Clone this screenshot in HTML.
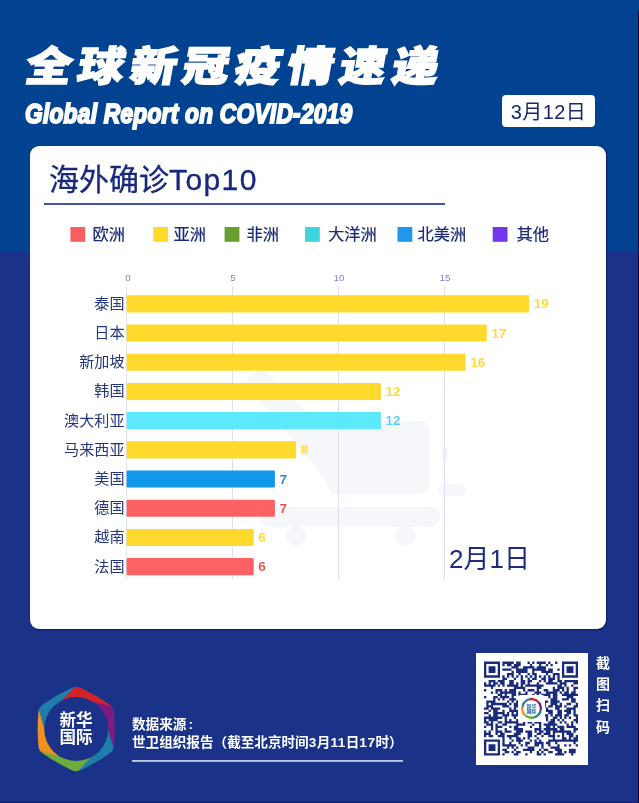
<!DOCTYPE html>
<html lang="zh-CN">
<head>
<meta charset="utf-8">
<title>全球新冠疫情速递</title>
<style>
html,body{margin:0;padding:0;}
body{width:639px;height:803px;overflow:hidden;position:relative;background:#1a3388;
  font-family:"Liberation Sans","Noto Sans CJK SC",sans-serif;}
.abs{position:absolute;}
#bgtop{left:0;top:0;width:639px;height:252px;background:#014391;}
#bgbot{left:0;top:801px;width:639px;height:2px;background:#15277a;}
#rcol{left:638px;top:11px;width:1px;height:792px;background:#03033f;}
#title{left:26px;top:36.6px;white-space:nowrap;color:#fff;font-weight:900;font-size:46.5px;line-height:60px;
  letter-spacing:5.85px;transform-origin:0 50%;transform:scale(1,0.885) skewX(-9deg);-webkit-text-stroke:1.6px #fff;}
#sub{left:25px;top:99.1px;white-space:nowrap;color:#fff;font-weight:700;font-style:italic;font-size:28px;line-height:30px;
  transform-origin:0 50%;transform:scaleX(0.812);-webkit-text-stroke:2px #fff;letter-spacing:0.3px;}
#date{left:502px;top:95px;width:93px;height:32px;border-radius:4px;background:#fff;color:#182a6e;
  font-size:20px;line-height:34px;text-align:center;letter-spacing:0.4px;}
#card{left:29.5px;top:146px;width:576.2px;height:482.7px;border-radius:9px;background:#fff;box-shadow:0.4px 0.4px 1.2px #101a63;}
#ctitle{left:49px;top:160px;font-size:30px;line-height:40px;font-weight:400;-webkit-text-stroke:0.3px #18297c;color:#18297c;white-space:nowrap;}
#cline{left:44px;top:203px;width:401px;height:2px;background:#4358a2;}
.lg{top:227.5px;width:14px;height:14px;}
.lt{top:222px;margin-left:-0.5px;font-size:16.3px;line-height:24px;color:#1a2a78;-webkit-text-stroke:0.2px #1a2a78;white-space:nowrap;}
.tick{top:272.2px;width:40px;margin-left:-19.6px;text-align:center;font-size:9.8px;line-height:12px;color:#7886c4;}
.grid{top:285.5px;width:1px;height:294px;background:#dcdff0;}
.bar{left:126.6px;height:17px;border-radius:1px;}
.cn{left:29.5px;width:95px;text-align:right;font-size:15.1px;line-height:20px;color:#26367f;white-space:nowrap;}
.val{font-size:13.6px;line-height:17px;font-weight:700;white-space:nowrap;-webkit-text-stroke:0.1px #fff;}
#frame{left:449px;top:540.8px;font-size:26px;line-height:36px;color:#1b2d7d;white-space:nowrap;}
.src{left:132px;color:#fff;font-weight:700;font-size:13.6px;line-height:18px;white-space:nowrap;}
#sline{left:132px;top:760px;width:271px;height:2px;background:#e4e8f7;}
#qrbox{left:476px;top:653px;width:112px;height:112px;background:#fff;}
.scan{left:593px;width:20px;text-align:center;color:#fff;font-weight:700;font-size:14px;line-height:20px;}
.lgt{left:46px;width:60px;text-align:center;color:#fff;font-weight:700;font-size:16.5px;line-height:18px;white-space:nowrap;}
</style>
</head>
<body>
<div class="abs" id="bgtop"></div>
<div class="abs" id="bgbot"></div>
<div class="abs" id="rcol"></div>

<div class="abs" id="title">全球新冠疫情速递</div>
<div class="abs" id="sub">Global Report on COVID-2019</div>
<div class="abs" id="date">3月12日</div>

<div class="abs" id="card"></div>
<div class="abs" id="ctitle">海外确诊<span style="letter-spacing:1.4px;font-weight:400;-webkit-text-stroke:0.35px #18297c">Top10</span></div>
<div class="abs" id="cline"></div>

<!--wm--><svg class="abs" style="left:0;top:0" width="639" height="803" viewBox="0 0 639 803"><g fill="#f5f7fb">
<rect x="327.500" y="421" width="102" height="73" rx="9"/>
<rect x="260" y="507" width="180" height="20" rx="10"/>
<circle cx="296" cy="536" r="10"/><circle cx="405" cy="536" r="10"/>
<rect x="441.500" y="447" width="6" height="14" rx="3"/>
<rect x="438" y="484" width="28" height="12" rx="6"/>
<path d="M245 381 L262 368 L332 436 L330 486 Z"/>
</g></svg><!--/wm-->
<!-- legend -->
<svg class="abs" style="left:0;top:0" width="639" height="803" viewBox="0 0 639 803"><rect x="70.4" y="227" width="14.8" height="14.8" fill="#f5605f"/><rect x="153.3" y="227" width="14.8" height="14.8" fill="#ffd92b"/><rect x="224.6" y="227" width="14.8" height="14.8" fill="#6a9e2f"/><rect x="305.0" y="227" width="14.8" height="14.8" fill="#3dd5dd"/><rect x="397.5" y="227" width="14.8" height="14.8" fill="#1f97ea"/><rect x="492.7" y="227" width="14.8" height="14.8" fill="#7437ea"/></svg>
<div class="abs lt" style="left:93px">欧洲</div>
<div class="abs lt" style="left:174px">亚洲</div>
<div class="abs lt" style="left:247px">非洲</div>
<div class="abs lt" style="left:328.5px">大洋洲</div>
<div class="abs lt" style="left:418px">北美洲</div>
<div class="abs lt" style="left:517px">其他</div>

<!-- axis -->
<div class="abs tick" style="left:127.5px">0</div>
<div class="abs tick" style="left:232.5px">5</div>
<div class="abs tick" style="left:338.5px">10</div>
<div class="abs tick" style="left:444.5px">15</div>

<!-- bars -->
<div id="bars">
<svg class="abs" style="left:0;top:0" width="639" height="803" viewBox="0 0 639 803"><rect x="126.1" y="286.2" width="1" height="293.4" fill="#dde0f0"/><rect x="232.0" y="286.2" width="1" height="293.4" fill="#dde0f0"/><rect x="338.0" y="286.2" width="1" height="293.4" fill="#dde0f0"/><rect x="444.0" y="286.2" width="1" height="293.4" fill="#dde0f0"/><rect x="126.6" y="295.3" width="402.6" height="17.1" rx="1" fill="#ffd92b"/><rect x="126.6" y="324.5" width="360.2" height="17.1" rx="1" fill="#ffd92b"/><rect x="126.6" y="353.7" width="339.0" height="17.1" rx="1" fill="#ffd92b"/><rect x="126.6" y="382.9" width="254.3" height="17.1" rx="1" fill="#ffd92b"/><rect x="126.6" y="412.1" width="254.3" height="17.1" rx="1" fill="#5ce9fb"/><rect x="126.6" y="441.3" width="169.5" height="17.1" rx="1" fill="#ffd92b"/><rect x="126.6" y="470.5" width="148.3" height="17.1" rx="1" fill="#1198ea"/><rect x="126.6" y="499.7" width="148.3" height="17.1" rx="1" fill="#fc6263"/><rect x="126.6" y="528.9" width="127.1" height="17.1" rx="1" fill="#ffd92b"/><rect x="126.6" y="558.1" width="127.1" height="17.1" rx="1" fill="#fc6263"/></svg>
<div class="abs cn" style="top:293.7px">泰国</div><div class="abs val" style="top:295.3px;left:533.8px;color:#ffd92b">19</div>
<div class="abs cn" style="top:322.9px">日本</div><div class="abs val" style="top:324.5px;left:491.4px;color:#ffd92b">17</div>
<div class="abs cn" style="top:352.1px">新加坡</div><div class="abs val" style="top:353.7px;left:470.2px;color:#ffd92b">16</div>
<div class="abs cn" style="top:381.3px">韩国</div><div class="abs val" style="top:382.9px;left:385.5px;color:#ffd92b">12</div>
<div class="abs cn" style="top:410.5px">澳大利亚</div><div class="abs val" style="top:412.1px;left:385.5px;color:#5ccdf5">12</div>
<div class="abs cn" style="top:439.7px">马来西亚</div><div class="abs val" style="top:441.3px;left:300.7px;color:#ffd92b">8</div>
<div class="abs cn" style="top:468.9px">美国</div><div class="abs val" style="top:470.5px;left:279.5px;color:#1b86d8">7</div>
<div class="abs cn" style="top:498.1px">德国</div><div class="abs val" style="top:499.7px;left:279.5px;color:#e8504f">7</div>
<div class="abs cn" style="top:527.3px">越南</div><div class="abs val" style="top:528.9px;left:258.3px;color:#ffd92b">6</div>
<div class="abs cn" style="top:556.5px">法国</div><div class="abs val" style="top:558.1px;left:258.3px;color:#e8504f">6</div>
</div><!--endbars-->

<div class="abs" id="frame">2月1日</div>

<!-- footer -->
<div class="abs src" style="top:715.6px">数据来源<span style="margin-left:2px">:</span></div>
<div class="abs src" style="top:733.5px">世卫组织报告（截至北京时间<span style="letter-spacing:0.5px">3</span>月<span style="letter-spacing:0.5px">11</span>日<span style="letter-spacing:0.5px">17</span>时）</div>
<svg class="abs" style="left:0;top:0" width="639" height="803" viewBox="0 0 639 803"><rect x="132" y="760.2" width="271" height="1.5" fill="#e6eaf8"/></svg>
<div class="abs" id="qrbox"></div>
<div class="abs scan" style="top:653px">截</div>
<div class="abs scan" style="top:674.2px">图</div>
<div class="abs scan" style="top:695.4px">扫</div>
<div class="abs scan" style="top:716.6px">码</div>
<!--logo--><svg class="abs" style="left:0;top:0" width="639" height="803" viewBox="0 0 639 803"><clipPath id="hx"><path d="M70.90 688.36Q76.20 685.30 81.50 688.36Q95.82 695.01 108.75 704.09Q114.05 707.15 114.05 713.27Q115.45 729.00 114.05 744.73Q114.05 750.85 108.75 753.91Q95.82 762.99 81.50 769.64Q76.20 772.70 70.90 769.64Q56.58 762.99 43.65 753.91Q38.35 750.85 38.35 744.73Q36.95 729.00 38.35 713.27Q38.35 707.15 43.65 704.09Q56.58 695.01 70.90 688.36Z"/></clipPath><g clip-path="url(#hx)"><polygon points="76.20,685.30 76.20,678.75 119.72,703.87 114.05,707.15 93.63,702.16 61.67,700.49" fill="#d2232a" stroke="#d2232a" stroke-width="0.6" stroke-linejoin="round"/><polygon points="114.05,707.15 119.72,703.87 119.72,754.13 114.05,750.85 108.16,730.67 93.63,702.16" fill="#7a1d7e" stroke="#7a1d7e" stroke-width="0.6" stroke-linejoin="round"/><polygon points="114.05,750.85 119.72,754.13 76.20,779.25 76.20,772.70 90.73,757.51 108.16,730.67" fill="#1f7ea8" stroke="#1f7ea8" stroke-width="0.6" stroke-linejoin="round"/><polygon points="76.20,772.70 76.20,779.25 32.68,754.13 38.35,750.85 58.77,755.84 90.73,757.51" fill="#6dac3a" stroke="#6dac3a" stroke-width="0.6" stroke-linejoin="round"/><polygon points="38.35,750.85 32.68,754.13 32.68,703.87 38.35,707.15 44.24,727.33 58.77,755.84" fill="#f0911f" stroke="#f0911f" stroke-width="0.6" stroke-linejoin="round"/><polygon points="38.35,707.15 32.68,703.87 76.20,678.75 76.20,685.30 61.67,700.49 44.24,727.33" fill="#1f7ea8" stroke="#1f7ea8" stroke-width="0.6" stroke-linejoin="round"/></g><circle cx="76.2" cy="729.0" r="32" fill="#1a3388"/></svg><!--/logo-->
<!--qr--><svg class="abs" style="left:0;top:0" width="639" height="803" viewBox="0 0 639 803"><path d="M484.00 661.60h16.05v2.29h-16.05zM502.34 661.60h11.46v2.29h-11.46zM516.10 661.60h4.59v2.29h-4.59zM527.56 661.60h2.29v2.29h-2.29zM532.15 661.60h2.29v2.29h-2.29zM536.73 661.60h9.17v2.29h-9.17zM548.20 661.60h2.29v2.29h-2.29zM555.07 661.60h2.29v2.29h-2.29zM561.95 661.60h16.05v2.29h-16.05zM484.00 663.89h2.29v2.29h-2.29zM497.76 663.89h2.29v2.29h-2.29zM502.34 663.89h2.29v2.29h-2.29zM506.93 663.89h4.59v2.29h-4.59zM513.80 663.89h6.88v2.29h-6.88zM529.85 663.89h2.29v2.29h-2.29zM539.02 663.89h2.29v2.29h-2.29zM545.90 663.89h2.29v2.29h-2.29zM550.49 663.89h2.29v2.29h-2.29zM561.95 663.89h2.29v2.29h-2.29zM575.71 663.89h2.29v2.29h-2.29zM484.00 666.19h2.29v2.29h-2.29zM488.59 666.19h6.88v2.29h-6.88zM497.76 666.19h2.29v2.29h-2.29zM511.51 666.19h6.88v2.29h-6.88zM522.98 666.19h11.46v2.29h-11.46zM536.73 666.19h9.17v2.29h-9.17zM561.95 666.19h2.29v2.29h-2.29zM566.54 666.19h6.88v2.29h-6.88zM575.71 666.19h2.29v2.29h-2.29zM484.00 668.48h2.29v2.29h-2.29zM488.59 668.48h6.88v2.29h-6.88zM497.76 668.48h2.29v2.29h-2.29zM502.34 668.48h9.17v2.29h-9.17zM516.10 668.48h11.46v2.29h-11.46zM532.15 668.48h13.76v2.29h-13.76zM548.20 668.48h4.59v2.29h-4.59zM557.37 668.48h2.29v2.29h-2.29zM561.95 668.48h2.29v2.29h-2.29zM566.54 668.48h6.88v2.29h-6.88zM575.71 668.48h2.29v2.29h-2.29zM484.00 670.77h2.29v2.29h-2.29zM488.59 670.77h6.88v2.29h-6.88zM497.76 670.77h2.29v2.29h-2.29zM511.51 670.77h2.29v2.29h-2.29zM516.10 670.77h11.46v2.29h-11.46zM532.15 670.77h2.29v2.29h-2.29zM541.32 670.77h11.46v2.29h-11.46zM561.95 670.77h2.29v2.29h-2.29zM566.54 670.77h6.88v2.29h-6.88zM575.71 670.77h2.29v2.29h-2.29zM484.00 673.06h2.29v2.29h-2.29zM497.76 673.06h2.29v2.29h-2.29zM506.93 673.06h6.88v2.29h-6.88zM518.39 673.06h2.29v2.29h-2.29zM527.56 673.06h2.29v2.29h-2.29zM532.15 673.06h4.59v2.29h-4.59zM545.90 673.06h2.29v2.29h-2.29zM552.78 673.06h6.88v2.29h-6.88zM561.95 673.06h2.29v2.29h-2.29zM575.71 673.06h2.29v2.29h-2.29zM484.00 675.36h16.05v2.29h-16.05zM502.34 675.36h2.29v2.29h-2.29zM506.93 675.36h2.29v2.29h-2.29zM511.51 675.36h2.29v2.29h-2.29zM516.10 675.36h2.29v2.29h-2.29zM520.68 675.36h2.29v2.29h-2.29zM525.27 675.36h2.29v2.29h-2.29zM529.85 675.36h2.29v2.29h-2.29zM534.44 675.36h2.29v2.29h-2.29zM539.02 675.36h2.29v2.29h-2.29zM543.61 675.36h2.29v2.29h-2.29zM548.20 675.36h2.29v2.29h-2.29zM552.78 675.36h2.29v2.29h-2.29zM557.37 675.36h2.29v2.29h-2.29zM561.95 675.36h16.05v2.29h-16.05zM502.34 677.65h4.59v2.29h-4.59zM513.80 677.65h2.29v2.29h-2.29zM520.68 677.65h2.29v2.29h-2.29zM527.56 677.65h2.29v2.29h-2.29zM532.15 677.65h4.59v2.29h-4.59zM541.32 677.65h4.59v2.29h-4.59zM548.20 677.65h6.88v2.29h-6.88zM557.37 677.65h2.29v2.29h-2.29zM488.59 679.94h6.88v2.29h-6.88zM497.76 679.94h6.88v2.29h-6.88zM509.22 679.94h4.59v2.29h-4.59zM520.68 679.94h4.59v2.29h-4.59zM527.56 679.94h4.59v2.29h-4.59zM539.02 679.94h2.29v2.29h-2.29zM543.61 679.94h2.29v2.29h-2.29zM548.20 679.94h4.59v2.29h-4.59zM557.37 679.94h4.59v2.29h-4.59zM564.24 679.94h13.76v2.29h-13.76zM484.00 682.23h2.29v2.29h-2.29zM488.59 682.23h2.29v2.29h-2.29zM493.17 682.23h4.59v2.29h-4.59zM500.05 682.23h4.59v2.29h-4.59zM509.22 682.23h4.59v2.29h-4.59zM516.10 682.23h2.29v2.29h-2.29zM520.68 682.23h4.59v2.29h-4.59zM527.56 682.23h2.29v2.29h-2.29zM536.73 682.23h2.29v2.29h-2.29zM545.90 682.23h11.46v2.29h-11.46zM559.66 682.23h6.88v2.29h-6.88zM573.41 682.23h4.59v2.29h-4.59zM484.00 684.53h11.46v2.29h-11.46zM497.76 684.53h2.29v2.29h-2.29zM502.34 684.53h2.29v2.29h-2.29zM506.93 684.53h11.46v2.29h-11.46zM520.68 684.53h2.29v2.29h-2.29zM525.27 684.53h18.34v2.29h-18.34zM557.37 684.53h4.59v2.29h-4.59zM564.24 684.53h2.29v2.29h-2.29zM571.12 684.53h2.29v2.29h-2.29zM490.88 686.82h2.29v2.29h-2.29zM513.80 686.82h11.46v2.29h-11.46zM536.73 686.82h4.59v2.29h-4.59zM552.78 686.82h2.29v2.29h-2.29zM557.37 686.82h6.88v2.29h-6.88zM566.54 686.82h2.29v2.29h-2.29zM573.41 686.82h4.59v2.29h-4.59zM484.00 689.11h2.29v2.29h-2.29zM495.46 689.11h6.88v2.29h-6.88zM504.63 689.11h2.29v2.29h-2.29zM509.22 689.11h6.88v2.29h-6.88zM522.98 689.11h2.29v2.29h-2.29zM527.56 689.11h6.88v2.29h-6.88zM536.73 689.11h2.29v2.29h-2.29zM543.61 689.11h4.59v2.29h-4.59zM552.78 689.11h6.88v2.29h-6.88zM561.95 689.11h2.29v2.29h-2.29zM566.54 689.11h2.29v2.29h-2.29zM573.41 689.11h2.29v2.29h-2.29zM490.88 691.40h2.29v2.29h-2.29zM495.46 691.40h2.29v2.29h-2.29zM500.05 691.40h16.05v2.29h-16.05zM518.39 691.40h2.29v2.29h-2.29zM525.27 691.40h2.29v2.29h-2.29zM534.44 691.40h6.88v2.29h-6.88zM545.90 691.40h11.46v2.29h-11.46zM559.66 691.40h2.29v2.29h-2.29zM564.24 691.40h4.59v2.29h-4.59zM571.12 691.40h4.59v2.29h-4.59zM497.76 693.70h4.59v2.29h-4.59zM504.63 693.70h2.29v2.29h-2.29zM511.51 693.70h4.59v2.29h-4.59zM518.39 693.70h9.17v2.29h-9.17zM532.15 693.70h2.29v2.29h-2.29zM536.73 693.70h2.29v2.29h-2.29zM541.32 693.70h9.17v2.29h-9.17zM552.78 693.70h4.59v2.29h-4.59zM561.95 693.70h16.05v2.29h-16.05zM484.00 695.99h2.29v2.29h-2.29zM493.17 695.99h4.59v2.29h-4.59zM500.05 695.99h9.17v2.29h-9.17zM511.51 695.99h2.29v2.29h-2.29zM520.68 695.99h11.46v2.29h-11.46zM539.02 695.99h4.59v2.29h-4.59zM548.20 695.99h2.29v2.29h-2.29zM552.78 695.99h4.59v2.29h-4.59zM566.54 695.99h6.88v2.29h-6.88zM493.17 698.28h2.29v2.29h-2.29zM497.76 698.28h2.29v2.29h-2.29zM502.34 698.28h2.29v2.29h-2.29zM509.22 698.28h6.88v2.29h-6.88zM520.68 698.28h4.59v2.29h-4.59zM529.85 698.28h4.59v2.29h-4.59zM536.73 698.28h6.88v2.29h-6.88zM550.49 698.28h6.88v2.29h-6.88zM561.95 698.28h6.88v2.29h-6.88zM571.12 698.28h4.59v2.29h-4.59zM486.29 700.58h9.17v2.29h-9.17zM506.93 700.58h2.29v2.29h-2.29zM511.51 700.58h2.29v2.29h-2.29zM516.10 700.58h4.59v2.29h-4.59zM522.98 700.58h2.29v2.29h-2.29zM527.56 700.58h9.17v2.29h-9.17zM541.32 700.58h6.88v2.29h-6.88zM550.49 700.58h9.17v2.29h-9.17zM571.12 700.58h4.59v2.29h-4.59zM486.29 702.87h2.29v2.29h-2.29zM490.88 702.87h16.05v2.29h-16.05zM509.22 702.87h2.29v2.29h-2.29zM513.80 702.87h4.59v2.29h-4.59zM522.98 702.87h9.17v2.29h-9.17zM534.44 702.87h4.59v2.29h-4.59zM541.32 702.87h4.59v2.29h-4.59zM550.49 702.87h6.88v2.29h-6.88zM559.66 702.87h2.29v2.29h-2.29zM566.54 702.87h4.59v2.29h-4.59zM575.71 702.87h2.29v2.29h-2.29zM486.29 705.16h6.88v2.29h-6.88zM502.34 705.16h6.88v2.29h-6.88zM513.80 705.16h9.17v2.29h-9.17zM525.27 705.16h2.29v2.29h-2.29zM539.02 705.16h6.88v2.29h-6.88zM548.20 705.16h4.59v2.29h-4.59zM555.07 705.16h6.88v2.29h-6.88zM564.24 705.16h2.29v2.29h-2.29zM573.41 705.16h4.59v2.29h-4.59zM484.00 707.45h4.59v2.29h-4.59zM490.88 707.45h9.17v2.29h-9.17zM509.22 707.45h2.29v2.29h-2.29zM513.80 707.45h2.29v2.29h-2.29zM518.39 707.45h2.29v2.29h-2.29zM522.98 707.45h9.17v2.29h-9.17zM536.73 707.45h4.59v2.29h-4.59zM545.90 707.45h2.29v2.29h-2.29zM555.07 707.45h4.59v2.29h-4.59zM566.54 707.45h9.17v2.29h-9.17zM488.59 709.75h2.29v2.29h-2.29zM493.17 709.75h4.59v2.29h-4.59zM502.34 709.75h2.29v2.29h-2.29zM509.22 709.75h11.46v2.29h-11.46zM525.27 709.75h6.88v2.29h-6.88zM534.44 709.75h6.88v2.29h-6.88zM545.90 709.75h6.88v2.29h-6.88zM557.37 709.75h4.59v2.29h-4.59zM564.24 709.75h6.88v2.29h-6.88zM573.41 709.75h2.29v2.29h-2.29zM484.00 712.04h4.59v2.29h-4.59zM493.17 712.04h11.46v2.29h-11.46zM506.93 712.04h2.29v2.29h-2.29zM511.51 712.04h2.29v2.29h-2.29zM516.10 712.04h6.88v2.29h-6.88zM529.85 712.04h2.29v2.29h-2.29zM534.44 712.04h2.29v2.29h-2.29zM539.02 712.04h4.59v2.29h-4.59zM548.20 712.04h4.59v2.29h-4.59zM557.37 712.04h4.59v2.29h-4.59zM566.54 712.04h4.59v2.29h-4.59zM573.41 712.04h2.29v2.29h-2.29zM488.59 714.33h2.29v2.29h-2.29zM493.17 714.33h4.59v2.29h-4.59zM502.34 714.33h6.88v2.29h-6.88zM511.51 714.33h6.88v2.29h-6.88zM522.98 714.33h2.29v2.29h-2.29zM529.85 714.33h2.29v2.29h-2.29zM534.44 714.33h2.29v2.29h-2.29zM543.61 714.33h4.59v2.29h-4.59zM550.49 714.33h2.29v2.29h-2.29zM555.07 714.33h6.88v2.29h-6.88zM564.24 714.33h4.59v2.29h-4.59zM573.41 714.33h4.59v2.29h-4.59zM484.00 716.62h18.34v2.29h-18.34zM504.63 716.62h2.29v2.29h-2.29zM513.80 716.62h2.29v2.29h-2.29zM518.39 716.62h2.29v2.29h-2.29zM522.98 716.62h2.29v2.29h-2.29zM534.44 716.62h2.29v2.29h-2.29zM539.02 716.62h2.29v2.29h-2.29zM545.90 716.62h2.29v2.29h-2.29zM552.78 716.62h4.59v2.29h-4.59zM559.66 716.62h2.29v2.29h-2.29zM564.24 716.62h2.29v2.29h-2.29zM568.83 716.62h2.29v2.29h-2.29zM575.71 716.62h2.29v2.29h-2.29zM484.00 718.92h2.29v2.29h-2.29zM488.59 718.92h9.17v2.29h-9.17zM504.63 718.92h2.29v2.29h-2.29zM509.22 718.92h2.29v2.29h-2.29zM516.10 718.92h2.29v2.29h-2.29zM527.56 718.92h2.29v2.29h-2.29zM534.44 718.92h2.29v2.29h-2.29zM539.02 718.92h2.29v2.29h-2.29zM545.90 718.92h2.29v2.29h-2.29zM550.49 718.92h4.59v2.29h-4.59zM557.37 718.92h2.29v2.29h-2.29zM561.95 718.92h2.29v2.29h-2.29zM573.41 718.92h4.59v2.29h-4.59zM484.00 721.21h4.59v2.29h-4.59zM490.88 721.21h2.29v2.29h-2.29zM497.76 721.21h4.59v2.29h-4.59zM504.63 721.21h13.76v2.29h-13.76zM522.98 721.21h2.29v2.29h-2.29zM527.56 721.21h4.59v2.29h-4.59zM534.44 721.21h6.88v2.29h-6.88zM548.20 721.21h6.88v2.29h-6.88zM559.66 721.21h2.29v2.29h-2.29zM564.24 721.21h2.29v2.29h-2.29zM571.12 721.21h2.29v2.29h-2.29zM575.71 721.21h2.29v2.29h-2.29zM486.29 723.50h6.88v2.29h-6.88zM495.46 723.50h2.29v2.29h-2.29zM502.34 723.50h4.59v2.29h-4.59zM516.10 723.50h9.17v2.29h-9.17zM532.15 723.50h2.29v2.29h-2.29zM539.02 723.50h2.29v2.29h-2.29zM543.61 723.50h13.76v2.29h-13.76zM566.54 723.50h2.29v2.29h-2.29zM571.12 723.50h2.29v2.29h-2.29zM484.00 725.80h2.29v2.29h-2.29zM490.88 725.80h2.29v2.29h-2.29zM495.46 725.80h6.88v2.29h-6.88zM509.22 725.80h2.29v2.29h-2.29zM513.80 725.80h4.59v2.29h-4.59zM529.85 725.80h2.29v2.29h-2.29zM539.02 725.80h2.29v2.29h-2.29zM545.90 725.80h4.59v2.29h-4.59zM552.78 725.80h2.29v2.29h-2.29zM557.37 725.80h6.88v2.29h-6.88zM566.54 725.80h9.17v2.29h-9.17zM490.88 728.09h2.29v2.29h-2.29zM495.46 728.09h2.29v2.29h-2.29zM504.63 728.09h2.29v2.29h-2.29zM513.80 728.09h9.17v2.29h-9.17zM534.44 728.09h6.88v2.29h-6.88zM543.61 728.09h13.76v2.29h-13.76zM559.66 728.09h4.59v2.29h-4.59zM573.41 728.09h4.59v2.29h-4.59zM484.00 730.38h2.29v2.29h-2.29zM488.59 730.38h2.29v2.29h-2.29zM495.46 730.38h6.88v2.29h-6.88zM504.63 730.38h6.88v2.29h-6.88zM516.10 730.38h6.88v2.29h-6.88zM525.27 730.38h6.88v2.29h-6.88zM534.44 730.38h2.29v2.29h-2.29zM539.02 730.38h4.59v2.29h-4.59zM545.90 730.38h4.59v2.29h-4.59zM552.78 730.38h18.34v2.29h-18.34zM573.41 730.38h2.29v2.29h-2.29zM484.00 732.67h6.88v2.29h-6.88zM495.46 732.67h2.29v2.29h-2.29zM500.05 732.67h4.59v2.29h-4.59zM513.80 732.67h6.88v2.29h-6.88zM527.56 732.67h4.59v2.29h-4.59zM536.73 732.67h4.59v2.29h-4.59zM543.61 732.67h6.88v2.29h-6.88zM552.78 732.67h2.29v2.29h-2.29zM561.95 732.67h2.29v2.29h-2.29zM566.54 732.67h6.88v2.29h-6.88zM484.00 734.97h2.29v2.29h-2.29zM488.59 734.97h4.59v2.29h-4.59zM497.76 734.97h6.88v2.29h-6.88zM506.93 734.97h11.46v2.29h-11.46zM527.56 734.97h4.59v2.29h-4.59zM534.44 734.97h2.29v2.29h-2.29zM541.32 734.97h2.29v2.29h-2.29zM548.20 734.97h6.88v2.29h-6.88zM557.37 734.97h2.29v2.29h-2.29zM561.95 734.97h2.29v2.29h-2.29zM568.83 734.97h4.59v2.29h-4.59zM575.71 734.97h2.29v2.29h-2.29zM502.34 737.26h2.29v2.29h-2.29zM509.22 737.26h2.29v2.29h-2.29zM516.10 737.26h4.59v2.29h-4.59zM522.98 737.26h2.29v2.29h-2.29zM527.56 737.26h2.29v2.29h-2.29zM536.73 737.26h2.29v2.29h-2.29zM552.78 737.26h2.29v2.29h-2.29zM561.95 737.26h4.59v2.29h-4.59zM568.83 737.26h2.29v2.29h-2.29zM573.41 737.26h4.59v2.29h-4.59zM484.00 739.55h16.05v2.29h-16.05zM502.34 739.55h2.29v2.29h-2.29zM511.51 739.55h2.29v2.29h-2.29zM516.10 739.55h6.88v2.29h-6.88zM529.85 739.55h2.29v2.29h-2.29zM534.44 739.55h2.29v2.29h-2.29zM539.02 739.55h2.29v2.29h-2.29zM548.20 739.55h29.80v2.29h-29.80zM484.00 741.84h2.29v2.29h-2.29zM497.76 741.84h2.29v2.29h-2.29zM502.34 741.84h2.29v2.29h-2.29zM509.22 741.84h2.29v2.29h-2.29zM518.39 741.84h2.29v2.29h-2.29zM525.27 741.84h4.59v2.29h-4.59zM534.44 741.84h9.17v2.29h-9.17zM545.90 741.84h4.59v2.29h-4.59zM555.07 741.84h2.29v2.29h-2.29zM573.41 741.84h2.29v2.29h-2.29zM484.00 744.14h2.29v2.29h-2.29zM488.59 744.14h6.88v2.29h-6.88zM497.76 744.14h2.29v2.29h-2.29zM502.34 744.14h13.76v2.29h-13.76zM520.68 744.14h2.29v2.29h-2.29zM525.27 744.14h2.29v2.29h-2.29zM534.44 744.14h4.59v2.29h-4.59zM541.32 744.14h2.29v2.29h-2.29zM548.20 744.14h2.29v2.29h-2.29zM557.37 744.14h2.29v2.29h-2.29zM564.24 744.14h2.29v2.29h-2.29zM568.83 744.14h2.29v2.29h-2.29zM575.71 744.14h2.29v2.29h-2.29zM484.00 746.43h2.29v2.29h-2.29zM488.59 746.43h6.88v2.29h-6.88zM497.76 746.43h2.29v2.29h-2.29zM506.93 746.43h2.29v2.29h-2.29zM511.51 746.43h2.29v2.29h-2.29zM516.10 746.43h2.29v2.29h-2.29zM527.56 746.43h6.88v2.29h-6.88zM541.32 746.43h2.29v2.29h-2.29zM550.49 746.43h9.17v2.29h-9.17zM484.00 748.72h2.29v2.29h-2.29zM488.59 748.72h6.88v2.29h-6.88zM497.76 748.72h2.29v2.29h-2.29zM502.34 748.72h4.59v2.29h-4.59zM513.80 748.72h2.29v2.29h-2.29zM522.98 748.72h11.46v2.29h-11.46zM539.02 748.72h2.29v2.29h-2.29zM543.61 748.72h4.59v2.29h-4.59zM555.07 748.72h6.88v2.29h-6.88zM568.83 748.72h6.88v2.29h-6.88zM484.00 751.01h2.29v2.29h-2.29zM497.76 751.01h2.29v2.29h-2.29zM504.63 751.01h4.59v2.29h-4.59zM511.51 751.01h2.29v2.29h-2.29zM516.10 751.01h4.59v2.29h-4.59zM529.85 751.01h2.29v2.29h-2.29zM536.73 751.01h2.29v2.29h-2.29zM541.32 751.01h2.29v2.29h-2.29zM548.20 751.01h4.59v2.29h-4.59zM557.37 751.01h4.59v2.29h-4.59zM564.24 751.01h2.29v2.29h-2.29zM568.83 751.01h6.88v2.29h-6.88zM484.00 753.31h16.05v2.29h-16.05zM502.34 753.31h2.29v2.29h-2.29zM513.80 753.31h4.59v2.29h-4.59zM525.27 753.31h2.29v2.29h-2.29zM536.73 753.31h4.59v2.29h-4.59zM543.61 753.31h2.29v2.29h-2.29zM555.07 753.31h9.17v2.29h-9.17zM571.12 753.31h2.29v2.29h-2.29z" fill="#1a2b7c"/><rect x="518.0" y="694.9" width="27" height="27" rx="3" fill="#fff"/><clipPath id="hq"><path d="M528.51 698.62Q531.50 696.90 534.49 698.62Q536.98 698.91 538.47 700.92Q541.46 702.65 541.46 706.10Q542.46 708.40 541.46 710.70Q541.46 714.15 538.47 715.88Q536.98 717.89 534.49 718.17Q531.50 719.90 528.51 718.17Q526.02 717.89 524.53 715.88Q521.54 714.15 521.54 710.70Q520.54 708.40 521.54 706.10Q521.54 702.65 524.53 700.92Q526.02 698.91 528.51 698.62Z"/></clipPath><g clip-path="url(#hq)"><polygon points="531.50,696.90 531.50,695.17 542.95,701.79 541.46,702.65 535.97,701.52 527.78,701.09" fill="#d2232a" stroke="#d2232a" stroke-width="0.6" stroke-linejoin="round"/><polygon points="541.46,702.65 542.95,701.79 542.95,715.01 541.46,714.15 539.69,708.83 535.97,701.52" fill="#7a1d7e" stroke="#7a1d7e" stroke-width="0.6" stroke-linejoin="round"/><polygon points="541.46,714.15 542.95,715.01 531.50,721.62 531.50,719.90 535.22,715.71 539.69,708.83" fill="#1f7ea8" stroke="#1f7ea8" stroke-width="0.6" stroke-linejoin="round"/><polygon points="531.50,719.90 531.50,721.62 520.05,715.01 521.54,714.15 527.03,715.28 535.22,715.71" fill="#6dac3a" stroke="#6dac3a" stroke-width="0.6" stroke-linejoin="round"/><polygon points="521.54,714.15 520.05,715.01 520.05,701.79 521.54,702.65 523.31,707.97 527.03,715.28" fill="#f0911f" stroke="#f0911f" stroke-width="0.6" stroke-linejoin="round"/><polygon points="521.54,702.65 520.05,701.79 531.50,695.17 531.50,696.90 527.78,701.09 523.31,707.97" fill="#1f7ea8" stroke="#1f7ea8" stroke-width="0.6" stroke-linejoin="round"/></g><circle cx="531.5" cy="708.4" r="8.2" fill="#ffffff"/><text x="531.5" y="708.1" text-anchor="middle" font-size="5" font-weight="700" fill="#1f5fa8" font-family="'Liberation Sans','Noto Sans CJK SC',sans-serif">新华</text><text x="531.5" y="713.0" text-anchor="middle" font-size="5" font-weight="700" fill="#1f5fa8" font-family="'Liberation Sans','Noto Sans CJK SC',sans-serif">国际</text></svg><!--/qr-->
<div class="abs lgt" style="top:711px">新华</div><div class="abs lgt" style="top:727.5px">国际</div>
</body>
</html>
